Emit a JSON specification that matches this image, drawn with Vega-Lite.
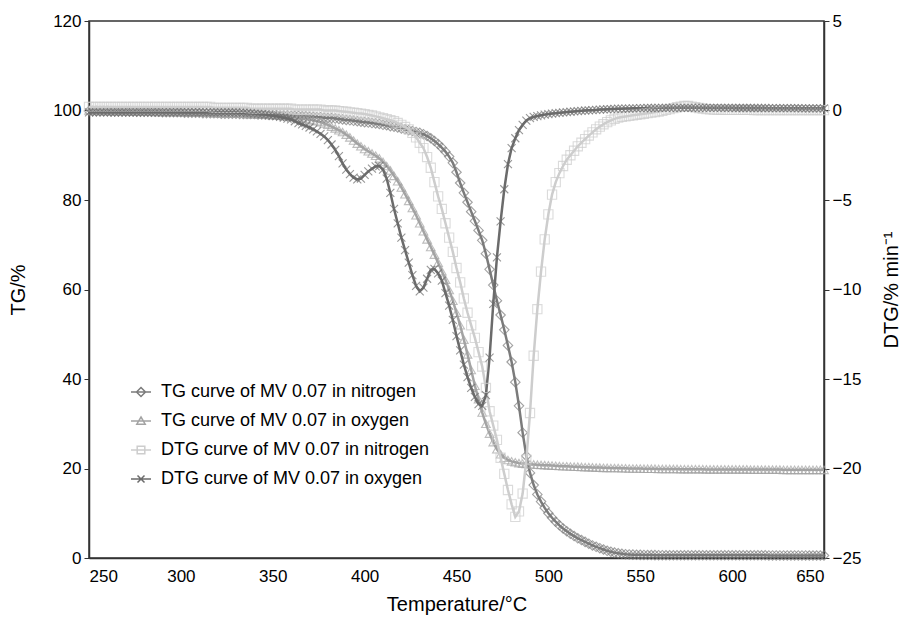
{
"$schema": "https://vega.github.io/schema/vega-lite/v6.json",
"width": 735, "height": 537,
"autosize": "none",
"padding": {"left": 89, "top": 21, "right": 90, "bottom": 65},
"config": {
 "font": "Liberation Sans",
 "view": {"stroke": "#333333", "strokeWidth": 1.5},
 "axis": {"grid": false, "domainColor": "#333333", "domainWidth": 1.5, "tickColor": "#333333", "labelColor": "#000000", "titleColor": "#000000", "labelFontSize": 17, "titleFontSize": 20, "titleFontWeight": "normal", "labelFont": "Liberation Sans", "titleFont": "Liberation Sans"},
 "legend": {"orient": "none", "legendX": 41, "legendY": 360, "title": null, "padding": 0, "labelFontSize": 18, "labelColor": "#000000", "labelFont": "Liberation Sans", "labelLimit": 400, "symbolSize": 400, "symbolStrokeWidth": 1.5, "symbolFillColor": "transparent", "rowPadding": 9, "labelOffset": 9}
},
"data": {"values": [
{"T":250,"a":99.9,"b":100,"c":0.2,"d":-0.1},{"T":252,"a":99.9,"b":100,"c":0.2,"d":-0.1},{"T":254,"a":99.9,"b":100,"c":0.2,"d":-0.1},{"T":256,"a":99.9,"b":99.9,"c":0.2,"d":-0.1},{"T":258,"a":99.9,"b":99.9,"c":0.2,"d":-0.1},
{"T":260,"a":99.9,"b":99.9,"c":0.2,"d":-0.1},{"T":262,"a":99.8,"b":99.9,"c":0.2,"d":-0.1},{"T":264,"a":99.8,"b":99.9,"c":0.2,"d":-0.1},{"T":266,"a":99.8,"b":99.9,"c":0.2,"d":-0.1},{"T":268,"a":99.8,"b":99.9,"c":0.2,"d":-0.1},
{"T":270,"a":99.8,"b":99.9,"c":0.2,"d":-0.1},{"T":272,"a":99.8,"b":99.8,"c":0.2,"d":-0.1},{"T":274,"a":99.8,"b":99.8,"c":0.2,"d":-0.1},{"T":276,"a":99.7,"b":99.8,"c":0.2,"d":-0.1},{"T":278,"a":99.7,"b":99.8,"c":0.2,"d":-0.1},
{"T":280,"a":99.7,"b":99.8,"c":0.2,"d":-0.1},{"T":282,"a":99.7,"b":99.8,"c":0.2,"d":-0.1},{"T":284,"a":99.7,"b":99.8,"c":0.2,"d":-0.1},{"T":286,"a":99.7,"b":99.7,"c":0.2,"d":-0.1},{"T":288,"a":99.7,"b":99.7,"c":0.2,"d":-0.1},
{"T":290,"a":99.6,"b":99.7,"c":0.2,"d":-0.1},{"T":292,"a":99.6,"b":99.7,"c":0.2,"d":-0.1},{"T":294,"a":99.6,"b":99.7,"c":0.2,"d":-0.1},{"T":296,"a":99.6,"b":99.7,"c":0.2,"d":-0.1},{"T":298,"a":99.6,"b":99.6,"c":0.2,"d":-0.1},
{"T":300,"a":99.6,"b":99.6,"c":0.2,"d":-0.1},{"T":302,"a":99.5,"b":99.6,"c":0.2,"d":-0.1},{"T":304,"a":99.5,"b":99.6,"c":0.2,"d":-0.1},{"T":306,"a":99.5,"b":99.6,"c":0.2,"d":-0.1},{"T":308,"a":99.5,"b":99.5,"c":0.2,"d":-0.1},
{"T":310,"a":99.5,"b":99.5,"c":0.2,"d":-0.1},{"T":312,"a":99.4,"b":99.5,"c":0.2,"d":-0.1},{"T":314,"a":99.4,"b":99.5,"c":0.2,"d":-0.1},{"T":316,"a":99.4,"b":99.5,"c":0.2,"d":-0.1},{"T":318,"a":99.4,"b":99.4,"c":0.15,"d":-0.1},
{"T":320,"a":99.4,"b":99.4,"c":0.15,"d":-0.1},{"T":322,"a":99.3,"b":99.4,"c":0.15,"d":-0.1},{"T":324,"a":99.3,"b":99.4,"c":0.15,"d":-0.1},{"T":326,"a":99.3,"b":99.4,"c":0.15,"d":-0.1},{"T":328,"a":99.3,"b":99.3,"c":0.15,"d":-0.1},
{"T":330,"a":99.3,"b":99.3,"c":0.15,"d":-0.1},{"T":332,"a":99.2,"b":99.3,"c":0.15,"d":-0.12},{"T":334,"a":99.2,"b":99.3,"c":0.15,"d":-0.12},{"T":336,"a":99.2,"b":99.2,"c":0.15,"d":-0.14},{"T":338,"a":99.2,"b":99.2,"c":0.1,"d":-0.15},
{"T":340,"a":99.2,"b":99.2,"c":0.1,"d":-0.17},{"T":342,"a":99.1,"b":99.1,"c":0.1,"d":-0.19},{"T":344,"a":99.1,"b":99.1,"c":0.1,"d":-0.21},{"T":346,"a":99.1,"b":99.1,"c":0.1,"d":-0.23},{"T":348,"a":99.0,"b":99.0,"c":0.1,"d":-0.26},
{"T":350,"a":99.0,"b":99.0,"c":0.1,"d":-0.29},{"T":352,"a":99.0,"b":98.9,"c":0.1,"d":-0.32},{"T":354,"a":98.9,"b":98.9,"c":0.1,"d":-0.36},{"T":356,"a":98.9,"b":98.8,"c":0.1,"d":-0.4},{"T":358,"a":98.9,"b":98.7,"c":0.1,"d":-0.45},
{"T":360,"a":98.8,"b":98.6,"c":0.1,"d":-0.5},{"T":362,"a":98.8,"b":98.5,"c":0.05,"d":-0.6},{"T":364,"a":98.8,"b":98.4,"c":0.05,"d":-0.7},{"T":366,"a":98.7,"b":98.3,"c":0.05,"d":-0.78},{"T":368,"a":98.7,"b":98.2,"c":0.05,"d":-0.86},
{"T":370,"a":98.6,"b":98.0,"c":0.05,"d":-0.95},{"T":372,"a":98.6,"b":97.8,"c":0.05,"d":-1.05},{"T":374,"a":98.5,"b":97.6,"c":0.05,"d":-1.17},{"T":376,"a":98.5,"b":97.4,"c":0.05,"d":-1.3},{"T":378,"a":98.4,"b":97.1,"c":0.0,"d":-1.45},
{"T":380,"a":98.3,"b":96.8,"c":0.0,"d":-1.65},{"T":382,"a":98.3,"b":96.4,"c":0.0,"d":-1.9},{"T":384,"a":98.2,"b":96.0,"c":0.0,"d":-2.2},{"T":386,"a":98.1,"b":95.6,"c":-0.03,"d":-2.55},{"T":388,"a":98.0,"b":95.2,"c":-0.05,"d":-2.95},
{"T":390,"a":97.9,"b":94.6,"c":-0.07,"d":-3.3},{"T":392,"a":97.8,"b":94.0,"c":-0.1,"d":-3.55},{"T":394,"a":97.7,"b":93.3,"c":-0.12,"d":-3.75},{"T":396,"a":97.6,"b":92.6,"c":-0.15,"d":-3.85},{"T":398,"a":97.5,"b":92.0,"c":-0.17,"d":-3.8},
{"T":400,"a":97.4,"b":91.4,"c":-0.2,"d":-3.6},{"T":402,"a":97.3,"b":90.9,"c":-0.24,"d":-3.4},{"T":404,"a":97.2,"b":90.4,"c":-0.28,"d":-3.25},{"T":406,"a":97.1,"b":89.9,"c":-0.33,"d":-3.12},{"T":408,"a":97.0,"b":89.3,"c":-0.38,"d":-3.1},
{"T":410,"a":96.8,"b":88.5,"c":-0.43,"d":-3.3},{"T":412,"a":96.7,"b":87.6,"c":-0.48,"d":-3.8},{"T":414,"a":96.5,"b":86.6,"c":-0.54,"d":-4.6},{"T":416,"a":96.4,"b":85.4,"c":-0.6,"d":-5.5},{"T":418,"a":96.2,"b":84.2,"c":-0.7,"d":-6.3},
{"T":420,"a":96.0,"b":82.8,"c":-0.8,"d":-7.1},{"T":422,"a":95.8,"b":81.3,"c":-0.92,"d":-7.8},{"T":424,"a":95.6,"b":79.8,"c":-1.05,"d":-8.5},{"T":426,"a":95.4,"b":78.2,"c":-1.25,"d":-9.2},{"T":428,"a":95.2,"b":76.6,"c":-1.5,"d":-9.8},
{"T":430,"a":95.0,"b":74.8,"c":-1.8,"d":-10.1},{"T":432,"a":94.7,"b":73.0,"c":-2.1,"d":-9.9},{"T":434,"a":94.3,"b":71.2,"c":-2.6,"d":-9.4},{"T":436,"a":93.8,"b":69.5,"c":-3.2,"d":-8.9},{"T":438,"a":93.2,"b":67.8,"c":-4.0,"d":-8.85},
{"T":440,"a":92.5,"b":66.0,"c":-4.8,"d":-9.1},{"T":442,"a":91.7,"b":64.1,"c":-5.5,"d":-9.5},{"T":444,"a":90.8,"b":62.2,"c":-6.3,"d":-10.2},{"T":446,"a":89.7,"b":59.9,"c":-7.1,"d":-10.9},{"T":448,"a":88.3,"b":57.5,"c":-7.9,"d":-11.7},
{"T":450,"a":86.2,"b":54.8,"c":-8.8,"d":-12.6},{"T":452,"a":83.8,"b":52.0,"c":-9.6,"d":-13.4},{"T":454,"a":81.6,"b":48.8,"c":-10.5,"d":-14.2},{"T":456,"a":79.5,"b":45.5,"c":-11.3,"d":-14.9},{"T":458,"a":77.4,"b":42.0,"c":-12.0,"d":-15.5},
{"T":460,"a":75.3,"b":38.5,"c":-12.7,"d":-16.0},{"T":462,"a":73.2,"b":35.5,"c":-13.5,"d":-16.4},{"T":464,"a":71.0,"b":32.5,"c":-14.3,"d":-16.5},{"T":466,"a":68.0,"b":30.0,"c":-15.5,"d":-15.9},{"T":468,"a":64.5,"b":27.8,"c":-16.8,"d":-13.8},
{"T":470,"a":61.0,"b":25.9,"c":-17.6,"d":-10.8},{"T":472,"a":57.5,"b":24.3,"c":-18.4,"d":-8.2},{"T":474,"a":54.3,"b":23.2,"c":-19.4,"d":-6.2},{"T":476,"a":51.0,"b":22.4,"c":-20.3,"d":-4.4},{"T":478,"a":47.5,"b":21.9,"c":-21.2,"d":-3.0},
{"T":480,"a":43.8,"b":21.6,"c":-22.0,"d":-2.1},{"T":482,"a":39.3,"b":21.4,"c":-22.7,"d":-1.55},{"T":484,"a":34.0,"b":21.2,"c":-22.4,"d":-1.1},{"T":486,"a":28.0,"b":21.1,"c":-21.4,"d":-0.8},{"T":488,"a":22.8,"b":21.0,"c":-19.5,"d":-0.56},
{"T":490,"a":19.0,"b":20.95,"c":-16.9,"d":-0.43},{"T":492,"a":16.3,"b":20.9,"c":-13.7,"d":-0.36},{"T":494,"a":14.2,"b":20.85,"c":-11.1,"d":-0.31},{"T":496,"a":12.6,"b":20.8,"c":-9.0,"d":-0.27},{"T":498,"a":11.2,"b":20.75,"c":-7.2,"d":-0.23},
{"T":500,"a":10.0,"b":20.7,"c":-5.8,"d":-0.2},{"T":502,"a":9.0,"b":20.65,"c":-4.7,"d":-0.17},{"T":504,"a":8.1,"b":20.6,"c":-4.0,"d":-0.15},{"T":506,"a":7.3,"b":20.55,"c":-3.5,"d":-0.13},{"T":508,"a":6.6,"b":20.5,"c":-3.1,"d":-0.11},
{"T":510,"a":6.0,"b":20.5,"c":-2.75,"d":-0.09},{"T":512,"a":5.4,"b":20.45,"c":-2.5,"d":-0.07},{"T":514,"a":4.9,"b":20.4,"c":-2.25,"d":-0.05},{"T":516,"a":4.4,"b":20.4,"c":-2.0,"d":-0.03},{"T":518,"a":4.0,"b":20.35,"c":-1.8,"d":-0.02},
{"T":520,"a":3.6,"b":20.3,"c":-1.6,"d":0.0},{"T":522,"a":3.2,"b":20.3,"c":-1.4,"d":0.01},{"T":524,"a":2.8,"b":20.25,"c":-1.22,"d":0.02},{"T":526,"a":2.5,"b":20.2,"c":-1.05,"d":0.03},{"T":528,"a":2.2,"b":20.2,"c":-0.9,"d":0.05},
{"T":530,"a":1.9,"b":20.15,"c":-0.77,"d":0.06},{"T":532,"a":1.6,"b":20.15,"c":-0.65,"d":0.07},{"T":534,"a":1.4,"b":20.1,"c":-0.55,"d":0.08},{"T":536,"a":1.2,"b":20.1,"c":-0.47,"d":0.09},{"T":538,"a":1.05,"b":20.1,"c":-0.4,"d":0.1},
{"T":540,"a":0.95,"b":20.05,"c":-0.36,"d":0.1},{"T":542,"a":0.85,"b":20.05,"c":-0.33,"d":0.11},{"T":544,"a":0.8,"b":20.0,"c":-0.3,"d":0.11},{"T":546,"a":0.75,"b":20.0,"c":-0.27,"d":0.12},{"T":548,"a":0.72,"b":20.0,"c":-0.24,"d":0.12},
{"T":550,"a":0.7,"b":20.0,"c":-0.21,"d":0.13},{"T":552,"a":0.68,"b":19.95,"c":-0.18,"d":0.13},{"T":554,"a":0.66,"b":19.95,"c":-0.15,"d":0.14},{"T":556,"a":0.65,"b":19.95,"c":-0.12,"d":0.14},{"T":558,"a":0.64,"b":19.95,"c":-0.09,"d":0.14},
{"T":560,"a":0.63,"b":19.9,"c":-0.06,"d":0.15},{"T":562,"a":0.62,"b":19.9,"c":-0.02,"d":0.15},{"T":564,"a":0.61,"b":19.9,"c":0.03,"d":0.15},{"T":566,"a":0.6,"b":19.9,"c":0.08,"d":0.15},{"T":568,"a":0.6,"b":19.9,"c":0.13,"d":0.15},
{"T":570,"a":0.6,"b":19.9,"c":0.18,"d":0.15},{"T":572,"a":0.6,"b":19.85,"c":0.22,"d":0.15},{"T":574,"a":0.6,"b":19.85,"c":0.25,"d":0.15},{"T":576,"a":0.6,"b":19.85,"c":0.25,"d":0.15},{"T":578,"a":0.6,"b":19.85,"c":0.22,"d":0.15},
{"T":580,"a":0.6,"b":19.85,"c":0.18,"d":0.15},{"T":582,"a":0.6,"b":19.85,"c":0.14,"d":0.15},{"T":584,"a":0.6,"b":19.85,"c":0.11,"d":0.15},{"T":586,"a":0.6,"b":19.8,"c":0.08,"d":0.15},{"T":588,"a":0.6,"b":19.8,"c":0.06,"d":0.15},
{"T":590,"a":0.6,"b":19.8,"c":0.05,"d":0.15},{"T":592,"a":0.6,"b":19.8,"c":0.04,"d":0.15},{"T":594,"a":0.6,"b":19.8,"c":0.04,"d":0.15},{"T":596,"a":0.6,"b":19.8,"c":0.03,"d":0.15},{"T":598,"a":0.6,"b":19.8,"c":0.03,"d":0.15},
{"T":600,"a":0.6,"b":19.8,"c":0.03,"d":0.15},{"T":602,"a":0.6,"b":19.8,"c":0.03,"d":0.14},{"T":604,"a":0.6,"b":19.8,"c":0.03,"d":0.14},{"T":606,"a":0.6,"b":19.8,"c":0.03,"d":0.14},{"T":608,"a":0.6,"b":19.8,"c":0.03,"d":0.14},
{"T":610,"a":0.6,"b":19.75,"c":0.03,"d":0.14},{"T":612,"a":0.6,"b":19.75,"c":0.02,"d":0.14},{"T":614,"a":0.6,"b":19.75,"c":0.02,"d":0.14},{"T":616,"a":0.6,"b":19.75,"c":0.02,"d":0.14},{"T":618,"a":0.6,"b":19.75,"c":0.02,"d":0.14},
{"T":620,"a":0.58,"b":19.75,"c":0.02,"d":0.13},{"T":622,"a":0.58,"b":19.75,"c":0.02,"d":0.13},{"T":624,"a":0.58,"b":19.75,"c":0.02,"d":0.13},{"T":626,"a":0.58,"b":19.75,"c":0.02,"d":0.13},{"T":628,"a":0.58,"b":19.7,"c":0.02,"d":0.13},
{"T":630,"a":0.58,"b":19.7,"c":0.02,"d":0.13},{"T":632,"a":0.57,"b":19.7,"c":0.02,"d":0.13},{"T":634,"a":0.57,"b":19.7,"c":0.02,"d":0.13},{"T":636,"a":0.57,"b":19.7,"c":0.02,"d":0.13},{"T":638,"a":0.57,"b":19.7,"c":0.02,"d":0.12},
{"T":640,"a":0.57,"b":19.7,"c":0.02,"d":0.12},{"T":642,"a":0.56,"b":19.7,"c":0.02,"d":0.12},{"T":644,"a":0.56,"b":19.7,"c":0.02,"d":0.12},{"T":646,"a":0.56,"b":19.7,"c":0.02,"d":0.12},{"T":648,"a":0.56,"b":19.7,"c":0.02,"d":0.12},
{"T":650,"a":0.56,"b":19.7,"c":0.02,"d":0.12}
]},
"encoding": {
 "x": {"field": "T", "type": "quantitative", "scale": {"domain": [250, 650], "nice": false},
  "axis": {"values": [250, 300, 350, 400, 450, 500, 550, 600, 650], "title": "Temperature/°C", "ticks": false, "tickSize": 0, "labelPadding": 10, "titlePadding": 10}},
 "color": {"field": "k", "type": "nominal",
  "scale": {"domain": ["a", "b", "c", "d"], "range": ["#7b7b7b", "#a3a3a3", "#cdcdcd", "#6b6b6b"]},
  "legend": {
   "labelExpr": "{'a':'TG curve of MV 0.07 in nitrogen','b':'TG curve of MV 0.07 in oxygen','c':'DTG curve of MV 0.07 in nitrogen','d':'DTG curve of MV 0.07 in oxygen'}[datum.label]",
   "encode": {"symbols": {"update": {"shape": {"signal": "{'a':'M-1,0H1M-0.45,0L0,-0.45L0.45,0L0,0.45Z','b':'M-1,0H1M0,-0.4L0.42,0.32H-0.42Z','c':'M-1,0H1M-0.38,-0.38H0.38V0.38H-0.38Z','d':'M-1,0H1M-0.35,-0.35L0.35,0.35M-0.35,0.35L0.35,-0.35'}[datum.value]"}, "fill": {"value": "transparent"}, "strokeWidth": {"value": 1.5}}}}}
 }
},
"layer": [
 {
  "transform": [{"fold": ["a", "b"], "as": ["k", "v"]}],
  "encoding": {
   "y": {"field": "v", "type": "quantitative", "scale": {"domain": [0, 120], "nice": false},
    "axis": {"orient": "left", "values": [0, 20, 40, 60, 80, 100, 120], "title": "TG/%", "tickSize": 5, "labelPadding": 3, "titlePadding": 24}}
  },
  "layer": [
   {"mark": {"type": "line", "strokeWidth": 2.5}},
   {"transform": [{"filter": "datum.k === 'a'"}], "mark": {"type": "point", "shape": "diamond", "filled": false, "strokeWidth": 1.1, "size": 90}},
   {"transform": [{"filter": "datum.k === 'b'"}], "mark": {"type": "point", "shape": "triangle-up", "filled": false, "strokeWidth": 1.1, "size": 75}}
  ]
 },
 {
  "transform": [{"fold": ["c", "d"], "as": ["k", "v"]}],
  "encoding": {
   "y": {"field": "v", "type": "quantitative", "scale": {"domain": [-25, 5], "nice": false},
    "axis": {"orient": "right", "values": [-25, -20, -15, -10, -5, 0, 5], "title": "DTG/% min⁻¹", "titleAngle": -90, "tickSize": 5, "labelPadding": 3, "titlePadding": 41}}
  },
  "layer": [
   {"mark": {"type": "line", "strokeWidth": 2.5}},
   {"transform": [{"filter": "datum.k === 'c'"}], "mark": {"type": "point", "shape": "square", "filled": false, "strokeWidth": 1.1, "size": 85}},
   {"transform": [{"filter": "datum.k === 'd'"}], "mark": {"type": "point", "shape": "M-1,-1L1,1M-1,1L1,-1", "filled": false, "strokeWidth": 1.1, "size": 64}}
  ]
 }
],
"resolve": {"scale": {"y": "independent"}}
}
